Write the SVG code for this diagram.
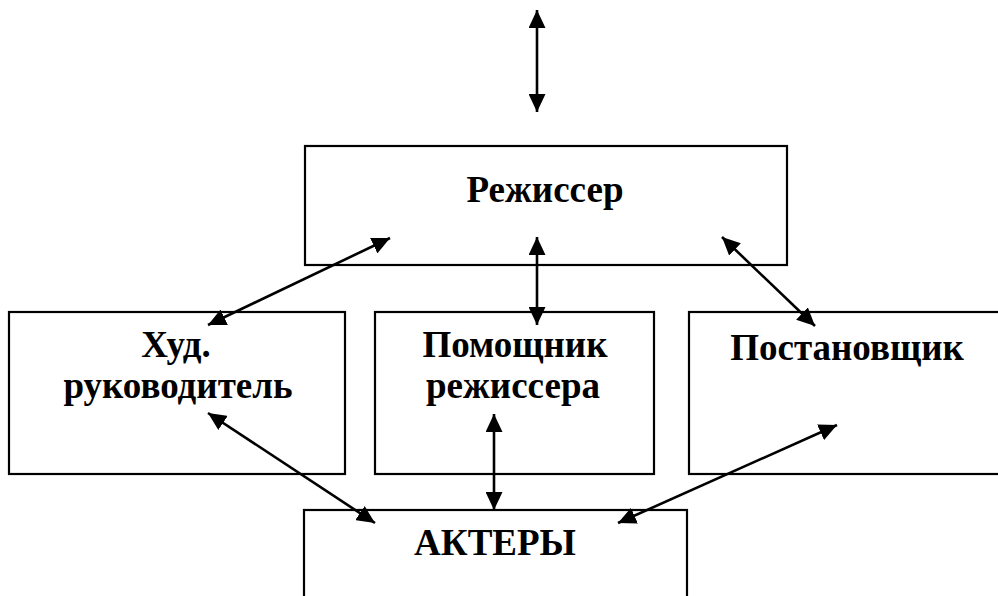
<svg xmlns="http://www.w3.org/2000/svg" width="998" height="596" viewBox="0 0 998 596">
<style>
.box{fill:#fff;stroke:#000;stroke-width:2.2}
.lbl{font-family:"Liberation Serif","Times New Roman",serif;font-weight:bold;font-size:37px;fill:#000;text-anchor:middle}
.con{stroke:#000;stroke-width:2.6;fill:none;marker-start:url(#ah);marker-end:url(#ah)}
</style>
<defs>
<marker id="ah" markerUnits="userSpaceOnUse" markerWidth="19" markerHeight="17" refX="18" refY="8.5" orient="auto-start-reverse" viewBox="0 0 19 17">
<path d="M0,0 L18,8.5 L0,17 Z" fill="#000"/>
</marker>
</defs>
<rect width="998" height="596" fill="#fff"/>
<g id="rezhisser"><rect class="box" x="305" y="146" width="482" height="119"/><text class="lbl" x="545" y="202">Режиссер</text></g>
<g id="hud"><rect class="box" x="9" y="312" width="336" height="162"/><text class="lbl" x="176" y="357">Худ.</text><text class="lbl" x="178" y="398">руководитель</text></g>
<g id="pomoshnik"><rect class="box" x="375" y="312" width="279" height="162"/><text class="lbl" x="515" y="357">Помощник</text><text class="lbl" x="513" y="398">режиссера</text></g>
<g id="postanovshik"><rect class="box" x="689" y="312" width="320" height="162"/><text class="lbl" x="847" y="360">Постановщик</text></g>
<g id="aktery"><rect class="box" x="304" y="510" width="383" height="100"/><text class="lbl" x="495" y="555">АКТЕРЫ</text></g>
<g id="connectors">
<line class="con" x1="537" y1="10" x2="537" y2="112"/>
<line class="con" x1="208" y1="325" x2="390" y2="238"/>
<line class="con" x1="537" y1="237" x2="537" y2="325"/>
<line class="con" x1="722" y1="237" x2="815" y2="326"/>
<line class="con" x1="208" y1="413" x2="375" y2="523"/>
<line class="con" x1="494" y1="414" x2="494" y2="510"/>
<line class="con" x1="837" y1="425" x2="618" y2="523"/>
</g>
</svg>
